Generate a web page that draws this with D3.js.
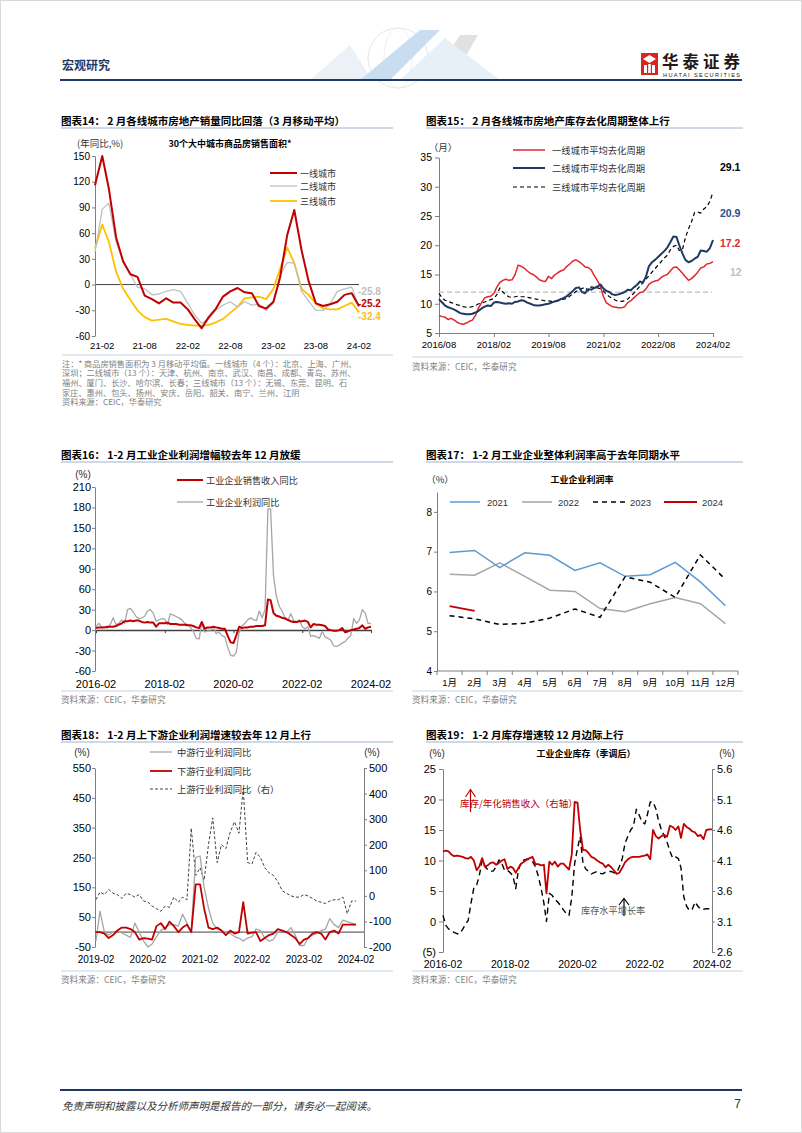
<!DOCTYPE html>
<html>
<head>
<meta charset="utf-8">
<script src="https://cdn.jsdelivr.net/npm/d3@7"></script>
<style>
  body { margin: 0; background: #fff; }
</style>
</head>
<body>
<script>
// ---------- data ----------
// chart 14: 30 city sales area yoy (3m avg), 2021-01 .. 2024-02
var c14Ticks = ["21-02", "21-08", "22-02", "22-08", "23-02", "23-08", "24-02"];
var c14YTicks = [-60, -30, 0, 30, 60, 90, 120, 150];
var c14Tier1 = [116,150,112,55,27,12,9,-13,-17,-22,-16,-21,-21,-29,-40,-51,-38,-28,-14,-8,-4,-9,-10,-25,-28,-20,8,58,87,40,4,-22,-25,-23,-20,-12,-10,-25.2];
var c14Tier2 = [38,88,95,50,28,12,-3,-5,-12,-11,-8,-6,-8,-22,-35,-45,-40,-30,-24,-20,-26,-20,-24,-23,-30,-22,10,26,25,-8,-19,-30,-30,-22,-8,-5,-3,-25.8];
var c14Tier3 = [42,70,50,15,-5,-18,-30,-38,-42,-41,-40,-43,-46,-47,-48,-48,-47,-44,-40,-33,-26,-16,-15,-14,-17,-5,18,43,25,-5,-12,-22,-28,-29,-29,-25,-21,-32.4];

// chart 15: destocking cycle (months), 2016/08 .. 2024/02
var c15Ticks = ["2016/08", "2018/02", "2019/08", "2021/02", "2022/08", "2024/02"];
var c15YTicks = [5, 10, 15, 20, 25, 30, 35];
var c15Ref = 12;
var c15Tier1 = [8.0,7.8,7.7,7.3,7.5,7.2,6.8,6.6,6.5,6.7,7.0,7.2,8.0,9.3,10.2,11.0,11.2,11.3,11.8,12.8,13.6,14.0,14.2,14.0,14.1,15.0,16.6,16.4,16.1,15.6,15.2,15.0,14.6,14.1,13.9,13.8,14.7,14.3,14.9,15.3,15.6,15.8,16.4,16.8,17.3,17.5,17.2,16.8,16.3,16.2,15.8,14.8,14.0,13.0,11.2,10.2,9.8,9.5,9.4,9.3,9.3,9.5,10.2,10.5,11.0,11.5,11.9,12.0,12.5,13.3,13.7,13.9,14.0,14.5,14.8,15.0,15.6,16.2,16.3,15.8,15.2,14.6,14.0,14.3,14.8,15.4,16.1,16.3,16.8,16.9,17.2];
var c15Tier2 = [10.8,10.2,9.7,9.4,9.2,9.0,8.7,8.4,8.3,8.2,8.2,8.3,8.5,8.8,9.2,9.5,9.7,9.6,10.2,10.3,10.2,10.1,10.0,10.1,10.0,10.3,10.4,10.6,10.5,10.2,10.0,9.8,9.7,9.7,9.8,9.9,10.0,10.2,10.4,10.5,10.8,11.0,11.3,11.7,12.2,12.7,12.8,12.0,11.8,12.5,12.4,12.7,12.9,13.3,12.6,12.2,12.0,11.6,11.5,11.6,11.8,12.0,12.4,12.3,12.8,13.2,13.8,13.6,14.6,16.4,17.1,17.5,18.0,18.5,19.0,19.6,20.5,21.5,21.4,20.0,18.6,17.5,17.1,17.3,17.7,18.0,19.1,19.0,18.9,19.5,20.9];
var c15Tier3 = [11.8,11.0,10.6,10.4,10.2,10.0,9.8,9.7,9.5,9.4,9.4,9.5,9.7,10.0,10.1,10.3,10.5,10.7,10.9,11.5,12.7,12.0,11.5,11.2,11.1,11.2,11.3,11.2,11.2,11.1,11.0,10.9,10.8,10.7,10.6,10.5,10.5,10.4,10.5,10.6,10.7,10.8,10.9,11.3,11.7,12.1,12.4,12.6,12.8,12.2,12.9,12.8,12.7,12.6,12.2,11.6,11.2,10.9,10.6,10.4,10.4,10.5,10.8,11.3,11.8,12.4,13.0,13.6,14.2,14.8,15.4,16.0,16.6,17.2,17.8,18.3,19.2,19.8,20.0,19.1,19.2,21.3,22.8,24.0,25.6,25.7,25.5,26.2,26.6,27.5,29.1];

// chart 16: industrial revenue / profit yoy, 2016-02 .. 2024-02
var c16Ticks = ["2016-02", "2018-02", "2020-02", "2022-02", "2024-02"];
var c16YTicks = [-60, -30, 0, 30, 60, 90, 120, 150, 180, 210];
var c16Revenue = [3,4,4,4,5,5,5,6,8,10,13,13,14,13,14,14,12,11,12,11,11,5,10,10,10,11,9,9,9,8,8,8,7,7,6,4,3,12,2,4,4,5,4,3,2,2,-8,-18,-19,-8,5,3,4,4,5,5,6,6,6,7,45,44,25,21,20,18,17,15,13,12,12,13,13,14,12,4,9,8,8,7,6,1,0,-1,-1,0,3,-3,-2,0,1,2,3,7,2,4,5];
var c16Profit = [5,10,5,4,3,8,18,8,10,15,10,30,32,27,20,17,18,20,28,30,25,13,15,17,16,8,24,22,20,18,15,10,8,4,-2,-12,-13,10,-3,-1,-1,5,-5,-3,-8,-10,-25,-37,-38,-33,-3,6,10,15,18,15,14,28,18,30,178,178,80,50,35,28,18,14,24,14,12,15,5,2,5,-9,-8,-10,-12,-2,-10,-12,-15,-23,-24,-22,-19,-17,-12,-8,17,10,15,30,25,10,10];

// chart 17: profit margin by month
var c17Months = ["1月","2月","3月","4月","5月","6月","7月","8月","9月","10月","11月","12月"];
var c17YTicks = [4, 5, 6, 7, 8];
var c17Y2021 = [6.98,7.03,6.60,6.97,6.91,6.53,6.72,6.38,6.42,6.73,6.24,5.64];
var c17Y2022 = [6.43,6.41,6.72,6.38,6.03,6.00,5.57,5.49,5.69,5.85,5.69,5.19];
var c17Y2023 = [5.39,5.31,5.17,5.20,5.33,5.56,5.35,6.37,6.23,5.85,6.92,6.30];
var c17Y2024 = [5.63,5.51];

// chart 18: upstream / midstream / downstream profit yoy, 2019-02 .. 2024-02
var c18Ticks = ["2019-02", "2020-02", "2021-02", "2022-02", "2023-02", "2024-02"];
var c18LeftTicks = [-50, 50, 150, 250, 350, 450, 550];
var c18RightTicks = [-200, -100, 0, 100, 200, 300, 400, 500];
var c18Mid = [-30,70,0,-10,0,5,-3,-10,-18,30,0,-30,-50,-40,-15,5,15,25,25,20,60,30,0,250,255,150,80,30,10,5,0,-5,-15,-20,-30,-20,-15,10,5,-20,-30,-25,0,5,0,15,-10,-45,-45,-20,-10,-5,5,10,45,25,15,40,35,30,25];
var c18Down = [0,0,-5,-20,-10,5,15,15,10,0,-25,-20,-22,-25,20,30,10,35,20,0,15,25,0,160,160,80,15,10,15,5,-10,5,-5,0,100,-5,-2,0,-30,-20,-10,-5,10,5,0,-10,-20,-40,-25,-20,-5,0,-5,-25,0,5,-5,25,25,25,25];
var c18Up = [-15,15,5,25,10,5,-10,10,5,-5,5,-20,-25,-40,-50,-60,-40,-45,-5,-25,-5,-15,265,80,110,60,200,305,130,200,185,250,290,245,420,130,125,170,150,110,90,80,55,20,10,0,-5,-5,5,0,-10,-20,-25,-30,-20,-15,-15,-5,-70,-20,-20];

// chart 19: inventory growth and inventory / annualised revenue, 2016-02 .. 2024-02
var c19Ticks = ["2016-02", "2018-02", "2020-02", "2022-02", "2024-02"];
var c19LeftTicks = [-5, 0, 5, 10, 15, 20, 25];
var c19RightTicks = [2.6, 3.1, 3.6, 4.1, 4.6, 5.1, 5.6];
var c19Ratio = [4.25,4.26,4.25,4.20,4.17,4.18,4.17,4.16,4.14,4.13,4.16,4.10,3.94,4.00,4.14,4.00,4.02,4.06,4.07,4.03,4.06,4.10,4.12,3.96,4.00,3.98,3.90,3.98,4.05,4.08,4.12,4.14,4.16,4.04,4.04,4.02,4.03,3.56,4.08,4.03,4.08,4.00,4.05,4.05,4.00,3.95,4.20,5.06,5.05,4.60,4.27,4.27,4.22,4.16,4.14,4.10,4.07,4.05,3.99,4.03,3.99,3.94,3.88,3.90,3.98,4.07,4.12,4.15,4.16,4.16,4.16,4.17,4.18,4.20,4.12,4.60,4.50,4.46,4.50,4.52,4.49,4.67,4.65,4.60,4.66,4.47,4.70,4.65,4.62,4.58,4.56,4.50,4.52,4.45,4.60,4.61,4.61];
var c19Growth = [1.0,-0.6,-1.2,-1.5,-1.8,-2.0,-2.0,-1.3,-0.5,0.2,3.0,5.5,6.0,7.5,10.0,9.0,8.5,8.2,8.3,9.0,10.1,9.5,8.4,8.4,8.0,7.5,5.4,8.5,9.8,10.1,10.2,10.1,9.8,9.0,7.5,5.5,3.0,0.0,4.6,4.3,3.6,3.2,2.6,1.9,1.3,1.0,4.0,9.5,12.0,13.9,9.5,8.6,8.2,7.8,8.0,8.2,7.9,7.8,8.1,8.2,8.2,8.0,8.0,9.0,10.3,12.8,14.0,15.0,15.6,18.4,17.5,16.3,16.0,17.5,19.6,19.6,18.5,16.5,15.0,14.0,13.0,11.5,10.4,10.6,10.3,8.8,4.0,2.5,1.8,2.0,3.2,2.5,2.0,2.0,2.1,2.1,2.1];

var c14Note = [
  "注：* 商品房销售面积为 3 月移动平均值。一线城市（4 个）：北京、上海、广州、",
  "深圳；二线城市（13 个）：天津、杭州、南京、武汉、南昌、成都、青岛、苏州、",
  "福州、厦门、长沙、哈尔滨、长春；三线城市（13 个）：无锡、东莞、昆明、石",
  "家庄、惠州、包头、扬州、安庆、岳阳、韶关、南宁、兰州、江阴",
  "资料来源：CEIC，华泰研究"
];

// ---------- helpers ----------
var CN = "'Noto Sans CJK SC', sans-serif";
var EN = "'Liberation Sans', Arial, 'Noto Sans CJK SC', sans-serif";

var svg = d3.select("body").append("svg")
    .attr("width", 802)
    .attr("height", 1133);

svg.append("rect").attr("width", 802).attr("height", 1133).attr("fill", "#fff");

function text(g, x, y, s, o) {
  o = o || {};
  return g.append("text")
    .attr("x", x).attr("y", y)
    .attr("dominant-baseline", "central")
    .attr("text-anchor", o.anchor || "start")
    .attr("font-family", o.font || CN)
    .attr("font-size", o.size || 9)
    .attr("font-weight", o.bold ? "bold" : null)
    .attr("font-style", o.italic ? "italic" : null)
    .attr("fill", o.fill || "#000")
    .text(s);
}

function hline(g, x1, x2, y, color, w, dash) {
  return g.append("line").attr("x1", x1).attr("x2", x2).attr("y1", y).attr("y2", y)
    .attr("stroke", color).attr("stroke-width", w || 1).attr("stroke-dasharray", dash || null);
}

function months(y, m, n) {
  return d3.range(n).map(function(i) { return new Date(y, m - 1 + i, 1); });
}

function plotLine(g, dates, vals, x, y, color, w, dash) {
  var line = d3.line()
    .x(function(d, i) { return x(dates[i]); })
    .y(function(d) { return y(d); });
  g.append("path").datum(vals)
    .attr("fill", "none")
    .attr("stroke", color)
    .attr("stroke-width", w)
    .attr("stroke-linejoin", "round")
    .attr("stroke-dasharray", dash || null)
    .attr("d", line);
}

function styleAx(ax, size) {
  ax.attr("font-family", EN).attr("font-size", size);
  ax.select(".domain").attr("stroke", "#7f7f7f");
  ax.selectAll(".tick line").attr("stroke", "#7f7f7f");
  ax.selectAll(".tick text").attr("fill", "#000");
}

function yLeft(g, scale, x, ticks, size, tick, pad, fmt) {
  var ax = g.append("g").attr("transform", "translate(" + x + ",0)")
    .call(d3.axisLeft(scale).tickValues(ticks).tickSize(tick).tickSizeOuter(0)
      .tickPadding(pad).tickFormat(fmt || function(d) { return d; }));
  styleAx(ax, size);
}

function yRight(g, scale, x, ticks, size, tick, pad, fmt) {
  var ax = g.append("g").attr("transform", "translate(" + x + ",0)")
    .call(d3.axisRight(scale).tickValues(ticks).tickSize(tick).tickSizeOuter(0)
      .tickPadding(pad).tickFormat(fmt || function(d) { return d; }));
  styleAx(ax, size);
}

function xLabels(g, scale, ticks, parse, y, size) {
  ticks.forEach(function(t) {
    text(g, scale(parse(t)), y, t, {anchor: "middle", font: EN, size: size});
  });
}

function title(x, y, s, x2) {
  text(svg, x, y, s, {size: 10.5, bold: true});
  hline(svg, x, x2, y + 8, "#9fb4cc", 1);
}

function legendLine(g, x1, x2, y, color, w, dash) {
  hline(g, x1, x2, y, color, w, dash);
}

// ---------- header / footer ----------
svg.append("rect").attr("x", 0.5).attr("y", 0.5).attr("width", 801).attr("height", 1132)
  .attr("fill", "none").attr("stroke", "#d9d9d9");

var deco = svg.append("g").attr("opacity", 0.55);
deco.append("circle").attr("cx", 398).attr("cy", 58).attr("r", 30)
  .attr("fill", "none").attr("stroke", "#c9d3de").attr("stroke-width", 1);
deco.append("ellipse").attr("cx", 398).attr("cy", 58).attr("rx", 14).attr("ry", 30)
  .attr("fill", "none").attr("stroke", "#d5dde6").attr("stroke-width", 0.8);
deco.append("path").attr("d", "M310,80 L350,45 L372,80 Z").attr("fill", "#dce6f0");
deco.append("path").attr("d", "M360,80 L420,30 L440,30 L390,80 Z").attr("fill", "#9dc3e6");
deco.append("path").attr("d", "M430,80 L460,35 L478,35 L452,80 Z").attr("fill", "#c9c9c9");
deco.append("path").attr("d", "M400,80 L445,38 L500,80 Z").attr("fill", "#d6e4f2");

text(svg, 62, 64, "宏观研究", {size: 12, bold: true, fill: "#1f3864"});
hline(svg, 60, 742, 80, "#1f3864", 2);

var logo = svg.append("g");
logo.append("rect").attr("x", 641).attr("y", 53).attr("width", 17).attr("height", 22).attr("fill", "#d7261e");
logo.append("path").attr("d", "M643,59 L649.5,55 L656,59 L649.5,63 Z").attr("fill", "#fff");
logo.append("path").attr("d", "M644,65 h3 v8 h-3 Z M652,65 h3 v8 h-3 Z M648.2,64 h2.6 v9 h-2.6 Z").attr("fill", "#fff");
text(logo, 662, 61, "华泰证券", {size: 16.5, bold: true, fill: "#231815"})
  .attr("textLength", 78).attr("lengthAdjust", "spacing");
text(logo, 663, 74.5, "HUATAI SECURITIES", {size: 5.6, font: EN, fill: "#231815"})
  .attr("textLength", 77).attr("lengthAdjust", "spacing");

hline(svg, 60, 742, 1090, "#1f3864", 2);
text(svg, 62, 1105, "免责声明和披露以及分析师声明是报告的一部分，请务必一起阅读。", {size: 10.5, italic: true, fill: "#333"});
text(svg, 741, 1104, "7", {size: 12, font: EN, anchor: "end", fill: "#333"});

// ---------- chart 14 ----------
title(61, 120, "图表14：  2 月各线城市房地产销量同比回落（3 月移动平均）", 393);
var g14 = svg.append("g");
var d14 = months(2021, 1, c14Tier1.length);
var x14 = d3.scaleTime().domain([d14[0], d14[d14.length - 1]]).range([95, 359]);
var y14 = d3.scaleLinear().domain([-60, 150]).range([336, 156]);
text(g14, 77, 143, "(年同比,%)", {size: 9.5, fill: "#333"});
text(g14, 230, 143, "30个大中城市商品房销售面积*", {size: 9, bold: true, anchor: "middle"});
hline(g14, 95, 359, y14(0), "#404040", 1);
yLeft(g14, y14, 95, c14YTicks, 10, 3, 2);
xLabels(g14, x14, c14Ticks, d3.timeParse("%y-%m"), 345, 9.5);
plotLine(g14, d14, c14Tier3, x14, y14, "#ffc000", 1.8);
plotLine(g14, d14, c14Tier2, x14, y14, "#c0c0c0", 1.3);
plotLine(g14, d14, c14Tier1, x14, y14, "#c00000", 2);
legendLine(g14, 270, 297, 173, "#c00000", 2);
legendLine(g14, 270, 297, 186, "#c0c0c0", 1.3);
legendLine(g14, 270, 297, 201, "#ffc000", 1.8);
text(g14, 300, 173, "一线城市", {size: 9, fill: "#333"});
text(g14, 300, 186, "二线城市", {size: 9, fill: "#333"});
text(g14, 300, 201, "三线城市", {size: 9, fill: "#333"});
text(g14, 358, 291, "-25.8", {size: 10, bold: true, font: EN, fill: "#bfbfbf"});
text(g14, 358, 303, "-25.2", {size: 10, bold: true, font: EN, fill: "#c00000"});
text(g14, 358, 316, "-32.4", {size: 10, bold: true, font: EN, fill: "#ffc000"});
hline(g14, 62, 393, 355, "#c5d3e2", 1);
c14Note.forEach(function(s, i) {
  text(g14, 62, 364 + i * 9.6, s, {size: 8.2, fill: "#7f7f7f"})
    .attr("dominant-baseline", null).attr("dy", "0.35em");
});

// ---------- chart 15 ----------
title(426, 120, "图表15：  2 月各线城市房地产库存去化周期整体上行", 743);
var g15 = svg.append("g");
var d15 = months(2016, 8, c15Tier1.length);
var x15 = d3.scaleTime().domain([d15[0], d15[d15.length - 1]]).range([439, 713]);
var y15 = d3.scaleLinear().domain([5, 35]).range([333, 157.5]);
text(g15, 443, 147, "（月）", {size: 9.5, anchor: "middle", fill: "#333"});
yLeft(g15, y15, 439, c15YTicks, 10.5, 4, 3);
var ax15 = g15.append("g").attr("transform", "translate(0,333)")
  .call(d3.axisBottom(x15).tickValues(c15Ticks.map(d3.timeParse("%Y/%m"))).tickSize(4).tickSizeOuter(0).tickFormat(""));
styleAx(ax15, 10);
xLabels(g15, x15, c15Ticks, d3.timeParse("%Y/%m"), 344, 9.5);
hline(g15, 439, 712, y15(c15Ref), "#bfbfbf", 1.2, "5,3");
plotLine(g15, d15, c15Tier3, x15, y15, "#000", 1.2, "4,3");
plotLine(g15, d15, c15Tier1, x15, y15, "#e3262c", 1.5);
plotLine(g15, d15, c15Tier2, x15, y15, "#1f3864", 2);
legendLine(g15, 513, 545, 150, "#e3262c", 1.5);
legendLine(g15, 513, 545, 168, "#1f3864", 2);
legendLine(g15, 513, 545, 187, "#000", 1.2, "4,3");
text(g15, 552, 150, "一线城市平均去化周期", {size: 9.3, fill: "#333"});
text(g15, 552, 168, "二线城市平均去化周期", {size: 9.3, fill: "#333"});
text(g15, 552, 187, "三线城市平均去化周期", {size: 9.3, fill: "#333"});
text(g15, 720, 167, "29.1", {size: 10.5, bold: true, font: EN, fill: "#000"});
text(g15, 720, 213, "20.9", {size: 10.5, bold: true, font: EN, fill: "#1f4e8c"});
text(g15, 720, 243, "17.2", {size: 10.5, bold: true, font: EN, fill: "#e3262c"});
text(g15, 730, 272, "12", {size: 10.5, bold: true, font: EN, fill: "#bfbfbf"});
hline(g15, 412, 743, 357, "#c5d3e2", 1);
text(g15, 412, 366, "资料来源：CEIC，华泰研究", {size: 8.6, fill: "#7f7f7f"});

// ---------- chart 16 ----------
title(61, 454, "图表16：  1-2 月工业企业利润增幅较去年 12 月放缓", 393);
var g16 = svg.append("g");
var d16 = months(2016, 2, c16Revenue.length);
var x16 = d3.scaleTime().domain([d16[0], d16[d16.length - 1]]).range([96, 371]);
var y16 = d3.scaleLinear().domain([-60, 210]).range([671, 487]);
text(g16, 83, 474, "(%)", {size: 10, font: EN, anchor: "middle", fill: "#333"});
yLeft(g16, y16, 95, c16YTicks, 11, 3, 1);
var ax16 = g16.append("g").attr("transform", "translate(0," + y16(0) + ")")
  .call(d3.axisBottom(x16).tickValues(c16Ticks.map(d3.timeParse("%Y-%m"))).tickSize(3).tickSizeOuter(0).tickFormat(""));
ax16.select(".domain").attr("stroke", "#404040").attr("stroke-width", 1.5);
ax16.selectAll(".tick line").attr("stroke", "#404040");
xLabels(g16, x16, c16Ticks, d3.timeParse("%Y-%m"), 684, 11);
plotLine(g16, d16, c16Profit, x16, y16, "#a6a6a6", 1.3);
plotLine(g16, d16, c16Revenue, x16, y16, "#c00000", 2);
legendLine(g16, 177, 203, 480, "#c00000", 2);
legendLine(g16, 177, 203, 502, "#a6a6a6", 1.3);
text(g16, 206, 480, "工业企业销售收入同比", {size: 9.2, fill: "#333"});
text(g16, 206, 502, "工业企业利润同比", {size: 9.2, fill: "#333"});
hline(g16, 61, 393, 691, "#c5d3e2", 1);
text(g16, 61, 699, "资料来源：CEIC，华泰研究", {size: 8.6, fill: "#7f7f7f"});

// ---------- chart 17 ----------
title(426, 454, "图表17：  1-2 月工业企业整体利润率高于去年同期水平", 743);
var g17 = svg.append("g");
var x17 = d3.scaleBand().domain(c17Months).range([437, 738]);
var y17 = d3.scaleLinear().domain([4, 8.5]).range([671, 492]);
text(g17, 440, 479, "（%）", {size: 9.5, anchor: "middle", fill: "#333"});
text(g17, 582, 479, "工业企业利润率", {size: 9, bold: true, anchor: "middle"});
yLeft(g17, y17, 437, c17YTicks, 10, 3, 2);
hline(g17, 437, 738, 671, "#7f7f7f", 1);
d3.range(c17Months.length + 1).forEach(function(i) {
  var xx = 437 + i * x17.step();
  g17.append("line").attr("x1", xx).attr("x2", xx).attr("y1", 671).attr("y2", 675).attr("stroke", "#7f7f7f");
});
c17Months.forEach(function(m) {
  text(g17, x17(m) + x17.bandwidth() / 2, 682, m, {size: 9.5, font: EN, anchor: "middle"});
});
var line17 = d3.line()
  .x(function(d, i) { return x17(c17Months[i]) + x17.bandwidth() / 2; })
  .y(function(d) { return y17(d); });
[[c17Y2022, "#a6a6a6", 1.5, null], [c17Y2021, "#5b9bd5", 1.5, null],
 [c17Y2023, "#000", 1.5, "5,4"], [c17Y2024, "#c00000", 1.8, null]].forEach(function(s) {
  g17.append("path").datum(s[0]).attr("fill", "none").attr("stroke", s[1])
    .attr("stroke-width", s[2]).attr("stroke-dasharray", s[3]).attr("d", line17);
});
legendLine(g17, 450, 480, 502, "#5b9bd5", 1.5);
legendLine(g17, 522, 552, 502, "#a6a6a6", 1.5);
legendLine(g17, 593, 625, 502, "#000", 1.5, "5,4");
legendLine(g17, 664, 697, 502, "#c00000", 1.8);
text(g17, 487, 502, "2021", {size: 9.5, font: EN, fill: "#333"});
text(g17, 558, 502, "2022", {size: 9.5, font: EN, fill: "#333"});
text(g17, 630, 502, "2023", {size: 9.5, font: EN, fill: "#333"});
text(g17, 702, 502, "2024", {size: 9.5, font: EN, fill: "#333"});
hline(g17, 412, 743, 691, "#c5d3e2", 1);
text(g17, 412, 699, "资料来源：CEIC，华泰研究", {size: 8.6, fill: "#7f7f7f"});

// ---------- chart 18 ----------
title(61, 734, "图表18：  1-2 月上下游企业利润增速较去年 12 月上行", 393);
var g18 = svg.append("g");
var d18 = months(2019, 2, c18Mid.length);
var x18 = d3.scaleTime().domain([d18[0], d18[d18.length - 1]]).range([96, 356]);
var y18L = d3.scaleLinear().domain([-50, 550]).range([947, 768]);
var y18R = d3.scaleLinear().domain([-200, 500]).range([947, 768]);
text(g18, 82, 752, "(%)", {size: 10, font: EN, anchor: "middle", fill: "#333"});
text(g18, 372, 752, "(%)", {size: 10, font: EN, anchor: "middle", fill: "#333"});
yLeft(g18, y18L, 95, c18LeftTicks, 11, 3, 1);
yRight(g18, y18R, 364, c18RightTicks, 11, 3, 2);
hline(g18, 95, 364, y18L(0), "#404040", 1);
xLabels(g18, x18, c18Ticks, d3.timeParse("%Y-%m"), 959, 10);
plotLine(g18, d18, c18Up, x18, y18R, "#404040", 1, "3,2");
plotLine(g18, d18, c18Mid, x18, y18L, "#a6a6a6", 1.3);
plotLine(g18, d18, c18Down, x18, y18L, "#c00000", 1.8);
legendLine(g18, 150, 172, 752, "#a6a6a6", 1.3);
legendLine(g18, 150, 172, 771, "#c00000", 1.8);
legendLine(g18, 150, 172, 789, "#404040", 1, "3,2");
text(g18, 177, 752, "中游行业利润同比", {size: 9.3, fill: "#333"});
text(g18, 177, 771, "下游行业利润同比", {size: 9.3, fill: "#333"});
text(g18, 177, 789, "上游行业利润同比（右）", {size: 9.3, fill: "#333"});
hline(g18, 61, 393, 971, "#c5d3e2", 1);
text(g18, 61, 979, "资料来源：CEIC，华泰研究", {size: 8.6, fill: "#7f7f7f"});

// ---------- chart 19 ----------
title(426, 734, "图表19：  1-2 月库存增速较 12 月边际上行", 743);
var g19 = svg.append("g");
var d19 = months(2016, 2, c19Ratio.length);
var x19 = d3.scaleTime().domain([d19[0], d19[d19.length - 1]]).range([443, 712]);
var y19L = d3.scaleLinear().domain([-5, 25]).range([952, 769]);
var y19R = d3.scaleLinear().domain([2.6, 5.6]).range([952, 769]);
text(g19, 437, 753, "(%)", {size: 10, font: EN, anchor: "middle", fill: "#333"});
text(g19, 727, 753, "(%)", {size: 10, font: EN, anchor: "middle", fill: "#333"});
text(g19, 586, 753, "工业企业库存（季调后）", {size: 9, bold: true, anchor: "middle"});
yLeft(g19, y19L, 443, c19LeftTicks, 11, 4, 3, function(d) { return d < 0 ? "(" + (-d) + ")" : d; });
yRight(g19, y19R, 712, c19RightTicks, 11, 3, 2, d3.format(".1f"));
xLabels(g19, x19, c19Ticks, d3.timeParse("%Y-%m"), 964, 10.5);
plotLine(g19, d19, c19Growth, x19, y19L, "#000", 1.4, "6,4");
plotLine(g19, d19, c19Ratio, x19, y19R, "#c00000", 1.8);
// annotations
g19.append("line").attr("x1", 470.5).attr("x2", 470.5).attr("y1", 812).attr("y2", 789.5).attr("stroke", "#c00000").attr("stroke-width", 1.2);
g19.append("path").attr("d", "M465.5,797 L470.5,789.5 L475.5,797").attr("fill", "none").attr("stroke", "#c00000").attr("stroke-width", 1.2);
text(g19, 460, 803, "库存/年化销售收入（右轴）", {size: 9.5, fill: "#c00000"});
g19.append("line").attr("x1", 624).attr("x2", 624).attr("y1", 916).attr("y2", 898.5).attr("stroke", "#000").attr("stroke-width", 1.2);
g19.append("path").attr("d", "M619,905 L624,898.5 L629,905").attr("fill", "none").attr("stroke", "#000").attr("stroke-width", 1.2);
text(g19, 581, 910, "库存水平增长率", {size: 9.2, fill: "#595959"});
hline(g19, 412, 743, 971, "#c5d3e2", 1);
text(g19, 412, 979, "资料来源：CEIC，华泰研究", {size: 8.6, fill: "#7f7f7f"});
</script>
</body>
</html>
